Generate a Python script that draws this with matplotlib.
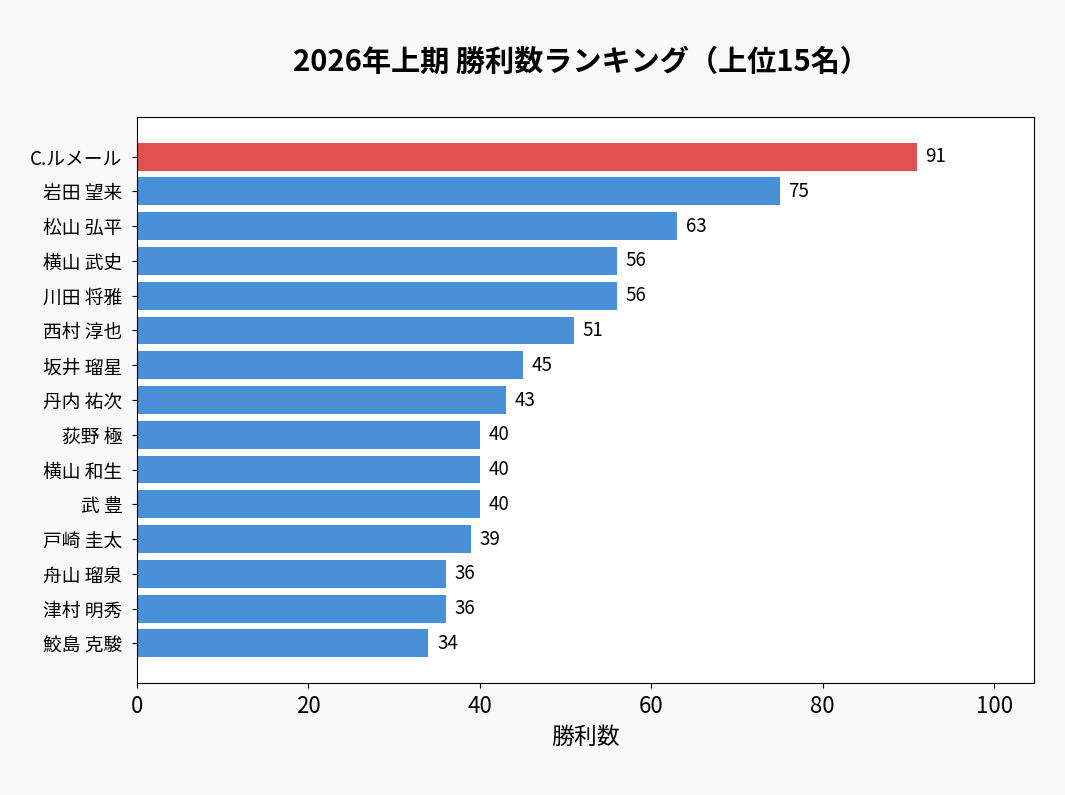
import numpy as np
import matplotlib
matplotlib.use("Agg")
from matplotlib import pyplot as plt

plt.rcParams['font.family'] = ['Noto Sans CJK JP', 'DejaVu Sans']

# データ（上位15名）
names = ["C.ルメール", "岩田 望来", "松山 弘平", "横山 武史", "川田 将雅",
         "西村 淳也", "坂井 瑠星", "丹内 祐次", "荻野 極", "横山 和生",
         "武 豊", "戸崎 圭太", "舟山 瑠泉", "津村 明秀", "鮫島 克駿"]
wins = [91, 75, 63, 56, 56, 51, 45, 43, 40, 40, 40, 39, 36, 36, 34]

blue = "#4a90d9"
red = "#e05252"
colors = [red] + [blue] * (len(wins) - 1)

fig = plt.figure(figsize=(10.65, 7.95), dpi=100, facecolor="#f9f9f9")
ax = fig.add_axes([137 / 1065, 1 - 683 / 795, (1034 - 137) / 1065, (683 - 117) / 795])
ax.set_facecolor("white")

y = np.arange(len(names))
bars = ax.barh(y, wins, height=0.8, color=colors)
ax.invert_yaxis()
ax.set_yticks(y)
ax.set_yticklabels(names, fontsize=13.5)
ax.tick_params(axis='y', pad=7)
ax.tick_params(axis='x', labelsize=16, pad=5)

for b, v in zip(bars, wins):
    ax.text(b.get_width() + 1, b.get_y() + b.get_height() / 2, str(v),
            va='center', ha='left', fontsize=13.5)

ax.set_xlim(0, max(wins) * 1.15)
ax.set_xlabel("勝利数", fontsize=16.5, labelpad=6)
# タイトルはプロット領域の中央に
ax.set_title("2026年上期 勝利数ランキング（上位15名）", fontsize=21,
             fontweight='bold', pad=33, x=0.495)

fig.savefig("out.png", dpi=100, facecolor=fig.get_facecolor())
